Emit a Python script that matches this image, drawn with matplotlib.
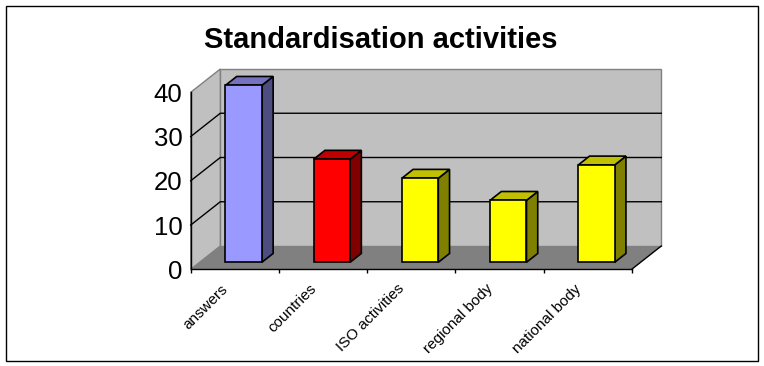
import numpy as np
import matplotlib
matplotlib.use('Agg')
import matplotlib.pyplot as plt
from matplotlib.patches import Polygon, Rectangle
from matplotlib.transforms import ScaledTranslation

plt.rcParams['font.family'] = ['Liberation Sans', 'DejaVu Sans']

kategorie = ['answers', 'countries', 'ISO activities', 'regional body', 'national body']
wartosci = [40, 23.3, 19, 14, 22]
podzialka_y = [0, 10, 20, 30, 40]

# kolory: przod, bok, gora
kolory = [('#9999FF', '#4D4D80', '#7373BF'),
          ('#FF0000', '#800000', '#C00000'),
          ('#FFFF00', '#808000', '#C0C000'),
          ('#FFFF00', '#808000', '#C0C000'),
          ('#FFFF00', '#808000', '#C0C000')]

W, H = 764, 366
lewo, prawo, gora, dol = 190.7, 631.7, 92.3, 269.3
glebia_px = (29.6, 23.3)

fig = plt.figure(figsize=(W / 100, H / 100), dpi=100, facecolor='white')
fig.add_artist(Rectangle((5.5 / W, 1 - 360.5 / H), 752 / W, 355 / H, transform=fig.transFigure,
                         facecolor='white', edgecolor='black', linewidth=1, zorder=-1))

ax = fig.add_axes([lewo / W, 1 - dol / H, (prawo - lewo) / W, (dol - gora) / H])
ax.set_xlim(0, len(kategorie))
ax.set_ylim(0, 40)
ax.patch.set_visible(False)
for s in ax.spines.values():
    s.set_visible(False)

# przesuniecie ukosne (glebia 0..1) w jednostkach danych
dx = glebia_px[0] / ((prawo - lewo) / len(kategorie))
dy = glebia_px[1] / ((dol - gora) / 40)


def rzut(x, y, z):
    return (x + z * dx, y + z * dy)


def sciana(punkty, kolor, krawedz='none', lw=1.0, zorder=1):
    ax.add_patch(Polygon([rzut(*p) for p in punkty], closed=True, facecolor=kolor,
                         edgecolor=krawedz, linewidth=lw, clip_on=False, zorder=zorder))


n = len(kategorie)
ymax = podzialka_y[-1]

# sciany i podloga
sciana([(0, 0, 1), (n, 0, 1), (n, ymax, 1), (0, ymax, 1)], '#C0C0C0', '#808080')
sciana([(0, 0, 0), (0, 0, 1), (0, ymax, 1), (0, ymax, 0)], '#C0C0C0', '#808080')
sciana([(0, 0, 0), (n, 0, 0), (n, 0, 1), (0, 0, 1)], '#808080')

# linie siatki
for v in podzialka_y[1:-1]:
    xs, ys = zip(rzut(0, v, 0), rzut(0, v, 1), rzut(n, v, 1))
    ax.plot(xs, ys, color='black', lw=1, clip_on=False, zorder=2)

# osie
ax.plot([0, 0], [0, ymax], color='black', lw=1, clip_on=False, zorder=3)
ax.plot([0, n], [0, 0], color='black', lw=1, clip_on=False, zorder=3)
xs, ys = zip(rzut(n, 0, 0), rzut(n, 0, 1))
ax.plot(xs, ys, color='black', lw=1, clip_on=False, zorder=3)

# slupki
szer = 0.413
z0, z1 = 0.3, 0.68
for i, (v, (k1, k2, k3)) in enumerate(zip(wartosci, kolory)):
    a = i + 0.5 - szer / 2
    b = i + 0.5 + szer / 2
    sciana([(b, 0, z0), (b, 0, z1), (b, v, z1), (b, v, z0)], k2, 'black', 1.2, 5)
    sciana([(a, v, z0), (b, v, z0), (b, v, z1), (a, v, z1)], k3, 'black', 1.2, 5)
    sciana([(a, 0, z0), (b, 0, z0), (b, v, z0), (a, v, z0)], k1, 'black', 1.2, 6)

# os y
ax.set_yticks(podzialka_y)
ax.tick_params(axis='y', length=0, pad=6, labelsize=18.5, colors='black')

# os x
ax.set_xticks(range(n + 1))
ax.set_xticklabels([])
ax.tick_params(axis='x', length=3, width=1, direction='out', color='black')
ax.set_xticks(np.arange(n) + 0.5, minor=True)
ax.set_xticklabels(kategorie, minor=True, rotation=45, ha='right', va='top',
                   rotation_mode='anchor', fontsize=11)
ax.tick_params(axis='x', which='minor', length=0, pad=9)
przesun = ScaledTranslation(-14 / 100, 0, fig.dpi_scale_trans)
for t in ax.get_xticklabels(minor=True):
    t.set_transform(t.get_transform() + przesun)

fig.text(381 / W, 1 - 40 / H, 'Standardisation activities', ha='center', va='center',
         fontsize=21, fontweight='bold', color='black')

fig.savefig('out.png', dpi=100)
